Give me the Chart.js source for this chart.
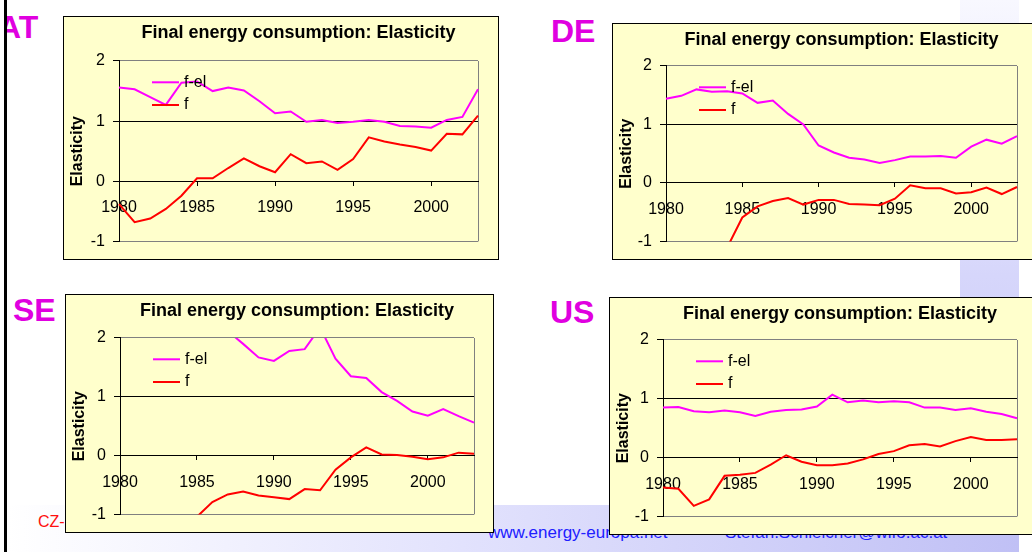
<!DOCTYPE html>
<html>
<head>
<meta charset="utf-8">
<title>Final energy consumption: Elasticity</title>
<script src="https://cdn.jsdelivr.net/npm/chart.js@4.4.1/dist/chart.umd.min.js"></script>
<style>
    body { margin: 0; width: 1032px; height: 552px; overflow: hidden; position: relative; background: #fff;
           font-family: "Liberation Sans", Arial, sans-serif; }
    .strip-right { position: absolute; left: 960px; top: 0; width: 59px; height: 552px;
                   background: linear-gradient(#f8f8ff, #d6d6fb 50%, #c2c2f5); }
    .strip-bottom { position: absolute; left: 7px; top: 505px; width: 1012px; height: 47px;
                    background: linear-gradient(90deg, #ffffff, #e2e2fd 45%, #c0c0f5); }
    .edge-white { position: absolute; left: 0; top: 0; width: 4px; height: 552px; background: #fff; z-index: 5; }
    .edge-black { position: absolute; left: 4px; top: 0; width: 3px; height: 552px; background: #000; z-index: 5; }
    .country { position: absolute; font-size: 32px; font-weight: bold; line-height: 1; color: #e000e0; }
    .footer { position: absolute; font-size: 17px; line-height: 1; color: #2020ff; white-space: nowrap; }
    .cz { position: absolute; font-size: 16px; line-height: 1; color: #ff1010; }
    .box { position: absolute; box-sizing: border-box; border: 1px solid #000; background: #ffffcc; z-index: 2; }
    .box canvas { display: block; }
</style>
</head>
<body>
<div class="strip-right"></div>
<div class="strip-bottom"></div>

<div class="footer" style="left:488px; top:524px;">www.energy-europa.net</div>
<div class="footer" style="left:725px; top:524px;">Stefan.Schleicher@wifo.ac.at</div>
<div class="cz" style="left:38px; top:514px;">CZ-</div>

<div class="country" style="left:-2px; top:11px;">AT</div>
<div class="country" style="left:551px; top:15px;">DE</div>
<div class="country" style="left:13px; top:294px;">SE</div>
<div class="country" style="left:550px; top:296px;">US</div>

<div class="edge-white"></div>
<div class="edge-black"></div>

<div class="box" id="box-at"><canvas id="chart-at"></canvas></div>
<div class="box" id="box-de"><canvas id="chart-de"></canvas></div>
<div class="box" id="box-se"><canvas id="chart-se"></canvas></div>
<div class="box" id="box-us"><canvas id="chart-us"></canvas></div>

<script>
// --- Data ---
const years = [1980, 1981, 1982, 1983, 1984, 1985, 1986, 1987, 1988, 1989, 1990, 1991,
               1992, 1993, 1994, 1995, 1996, 1997, 1998, 1999, 2000, 2001, 2002, 2003];
const yTicks = [-1, 0, 1, 2];
const seriesNames = ['f-el', 'f'];
const chartTitle = 'Final energy consumption: Elasticity';
const axisTitle = 'Elasticity';

// Austria
const atFel = [1.56, 1.53, 1.40, 1.27, 1.64, 1.66, 1.50, 1.56, 1.51, 1.33, 1.13, 1.16,
               0.99, 1.02, 0.97, 0.99, 1.02, 0.99, 0.92, 0.91, 0.89, 1.02, 1.07, 1.53];
const atF = [-0.38, -0.68, -0.62, -0.46, -0.24, 0.05, 0.05, 0.22, 0.38, 0.25, 0.15, 0.45,
             0.30, 0.33, 0.19, 0.37, 0.73, 0.66, 0.61, 0.57, 0.51, 0.79, 0.78, 1.09];

// Germany (f below the axis until 1984)
const deFel = [1.44, 1.49, 1.60, 1.56, 1.57, 1.53, 1.37, 1.41, 1.18, 1.00, 0.64, 0.52,
               0.43, 0.40, 0.34, 0.39, 0.45, 0.45, 0.46, 0.43, 0.62, 0.74, 0.67, 0.80];
const deF = [null, null, null, null, -1.11, -0.59, -0.40, -0.31, -0.26, -0.37, -0.29, -0.29,
             -0.36, -0.37, -0.38, -0.27, -0.04, -0.09, -0.09, -0.18, -0.16, -0.08, -0.19, -0.07];

// Sweden (f-el above the axis before 1987, f below it before 1985)
const seFel = [null, null, null, null, null, null, null, 2.12, 1.90, 1.67, 1.61, 1.78,
               1.81, 2.18, 1.65, 1.35, 1.32, 1.08, 0.93, 0.75, 0.68, 0.79, 0.67, 0.56];
const seF = [null, null, null, null, null, -1.04, -0.79, -0.66, -0.61, -0.68, -0.71, -0.74,
             -0.57, -0.59, -0.24, -0.03, 0.14, 0.02, 0.01, -0.02, -0.06, -0.03, 0.05, 0.03];

// United States
const usFel = [0.85, 0.86, 0.79, 0.77, 0.80, 0.77, 0.71, 0.78, 0.81, 0.82, 0.87, 1.07,
               0.94, 0.97, 0.94, 0.96, 0.94, 0.85, 0.85, 0.81, 0.84, 0.78, 0.74, 0.67];
const usF = [-0.51, -0.53, -0.82, -0.71, -0.31, -0.29, -0.26, -0.12, 0.04, -0.07, -0.13, -0.13,
             -0.10, -0.03, 0.06, 0.11, 0.21, 0.23, 0.19, 0.28, 0.35, 0.30, 0.30, 0.31];

// --- Panel geometry: box = [left, top, width, height], plot = inset inside the canvas ---
const panels = [
    { id: 'at', box: [63, 16, 436, 244], plot: { left: 55, top: 44, right: 414, bottom: 230 }, fel: atFel, f: atF },
    { id: 'de', box: [612, 23, 426, 237], plot: { left: 53, top: 42, right: 404, bottom: 223 }, fel: deFel, f: deF },
    { id: 'se', box: [65, 294, 429, 239], plot: { left: 54, top: 43, right: 408, bottom: 224 }, fel: seFel, f: seF },
    { id: 'us', box: [609, 297, 429, 238], plot: { left: 53, top: 42, right: 407, bottom: 224 }, fel: usFel, f: usF }
];

const FONT = '"Liberation Sans", Arial, sans-serif';
Chart.defaults.font.family = FONT;
Chart.defaults.color = '#000';

// --- Legend drawn inside the plot area, top left ---
const insideLegend = {
    id: 'insideLegend',
    afterDatasetsDraw(chart) {
        const { ctx, chartArea } = chart;
        ctx.save();
        chart.data.datasets.forEach((ds, i) => {
            const y = chartArea.top + 21.3 + i * 22.7;
            ctx.strokeStyle = ds.borderColor;
            ctx.lineWidth = 2;
            ctx.beginPath();
            ctx.moveTo(chartArea.left + 33, y);
            ctx.lineTo(chartArea.left + 60, y);
            ctx.stroke();
            ctx.fillStyle = '#000';
            ctx.font = '16px ' + FONT;
            ctx.textBaseline = 'middle';
            ctx.fillText(ds.label, chartArea.left + 65, y);
        });
        ctx.restore();
    }
};

function buildChart(p) {
    const [left, top, w, h] = p.box;
    const box = document.getElementById('box-' + p.id);
    box.style.left = left + 'px';
    box.style.top = top + 'px';
    box.style.width = w + 'px';
    box.style.height = h + 'px';

    const canvas = document.getElementById('chart-' + p.id);
    canvas.width = w - 2;
    canvas.height = h - 2;
    const last = years.length - 1;

    return new Chart(canvas, {
        type: 'line',
        data: {
            labels: years,
            datasets: [
                { label: seriesNames[0], data: p.fel, borderColor: '#ff00ff', borderWidth: 2, pointRadius: 0, tension: 0, fill: false },
                { label: seriesNames[1], data: p.f, borderColor: '#ff0000', borderWidth: 2, pointRadius: 0, tension: 0, fill: false }
            ]
        },
        options: {
            responsive: false,
            animation: false,
            events: [],
            layout: { padding: { left: 0, top: 0, right: canvas.width - p.plot.right, bottom: canvas.height - p.plot.bottom } },
            plugins: {
                legend: { display: false },
                tooltip: { enabled: false },
                title: {
                    display: true,
                    text: chartTitle,
                    fullSize: false,
                    color: '#000',
                    font: { size: 18, weight: 'bold', lineHeight: 1.2 },
                    padding: { top: 5.2, bottom: p.plot.top - 5.2 - 21.6 }
                }
            },
            scales: {
                x: {
                    type: 'category',
                    position: { y: 0 },
                    border: { color: '#000', width: 1 },
                    grid: {
                        color: c => c.index === last ? '#808080' : 'rgba(0,0,0,0)',
                        tickColor: c => (c.index % 5 === 0 && c.index !== last) ? '#000' : 'rgba(0,0,0,0)',
                        tickLength: 4
                    },
                    ticks: {
                        autoSkip: false,
                        maxRotation: 0,
                        padding: 13,
                        font: { size: 16 },
                        callback: (v, i) => i % 5 === 0 ? String(years[i]) : ''
                    }
                },
                y: {
                    min: yTicks[0],
                    max: yTicks[yTicks.length - 1],
                    border: { color: '#000', width: 1 },
                    grid: {
                        color: c => (c.tick.value === 0 || c.tick.value === 1) ? '#000' : '#808080',
                        tickColor: '#000',
                        tickLength: 6
                    },
                    ticks: { stepSize: 1, padding: 8, font: { size: 16 } },
                    title: { display: true, text: axisTitle, color: '#000', font: { size: 16, weight: 'bold' }, padding: { top: 4, bottom: 0 } },
                    afterFit: s => { s.width = p.plot.left; }
                }
            }
        },
        plugins: [insideLegend]
    });
}

// --- Draw all four panels ---
panels.forEach(buildChart);
</script>
</body>
</html>
